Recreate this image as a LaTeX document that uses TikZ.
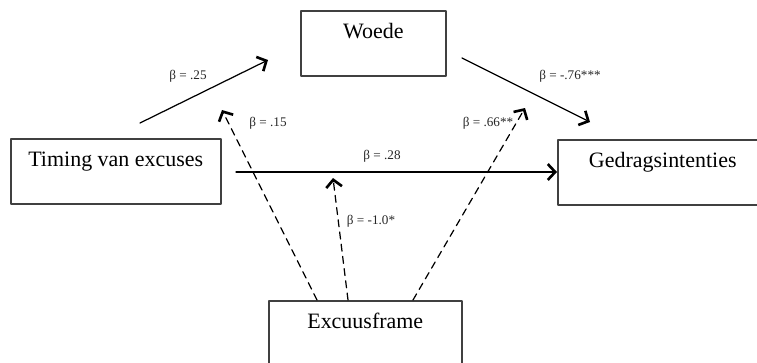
\documentclass[tikz,border=0pt]{standalone}
\usepackage{fontspec}
\setmainfont{Liberation Serif}
\usetikzlibrary{arrows.meta}

\begin{document}
\begin{tikzpicture}[x=0.02cm,y=-0.02cm,line cap=round,line join=round,
	>={Straight Barb[length=4.2pt,width=9pt,line width=1.5pt]},
	box/.style={draw=black!75,line width=0.9pt,anchor=north west,inner sep=0pt,
		minimum height=1.3cm,text height=0.55cm,text depth=0.75cm,
		font=\fontsize{12.5}{15}\selectfont},
	coef/.style={font=\fontsize{7.5}{9}\selectfont,text=black!85,inner sep=1pt},
	effect/.style={->,line width=0.7pt},
	moder/.style={->,line width=0.7pt,dash pattern=on 4pt off 3pt}]
	\useasboundingbox (0,0) rectangle (757,362);
	\clip (0,0) rectangle (757,362);
	% variables
	\node[box,minimum width=2.9cm] (woede) at (300,10) {Woede};
	\node[box,minimum width=4.2cm] (timing) at (10,138) {Timing van excuses};
	\node[box,minimum width=4.2cm] (gedrag) at (557,139) {Gedragsintenties};
	\node[box,minimum width=3.86cm] (frame) at (268,300) {Excuusframe};
	% loose ends of the paths
	\coordinate (tw0) at (140,123);
	\coordinate (tw1) at (268,60);
	\coordinate (wg0) at (462,58);
	\coordinate (wg1) at (590,122);
	\coordinate (tg0) at (236,172);
	\coordinate (tg1) at (557,172);
	\coordinate (fa0) at (317,300);
	\coordinate (fa1) at (222,110);
	\coordinate (fb0) at (348,300);
	\coordinate (fb1) at (333,178);
	\coordinate (fc0) at (413,300);
	\coordinate (fc1) at (525,108);
	% paths
	\draw[effect] (tw0) -- (tw1);
	\draw[effect] (wg0) -- (wg1);
	\draw[effect] (tg0) -- (tg1);
	\draw[moder] (fa0) -- (fa1);
	\draw[moder] (fb0) -- (fb1);
	\draw[moder] (fc0) -- (fc1);
	% coefficients
	\node[coef] (b1) at (188,76) {β = .25};
	\node[coef] (b2) at (268,123) {β = .15};
	\node[coef] (b3) at (382,156) {β = .28};
	\node[coef] (b4) at (570,76) {β = -.76***};
	\node[coef] (b5) at (488,123) {β = .66**};
	\node[coef] (b6) at (371,221) {β = -1.0*};
\end{tikzpicture}
\end{document}
